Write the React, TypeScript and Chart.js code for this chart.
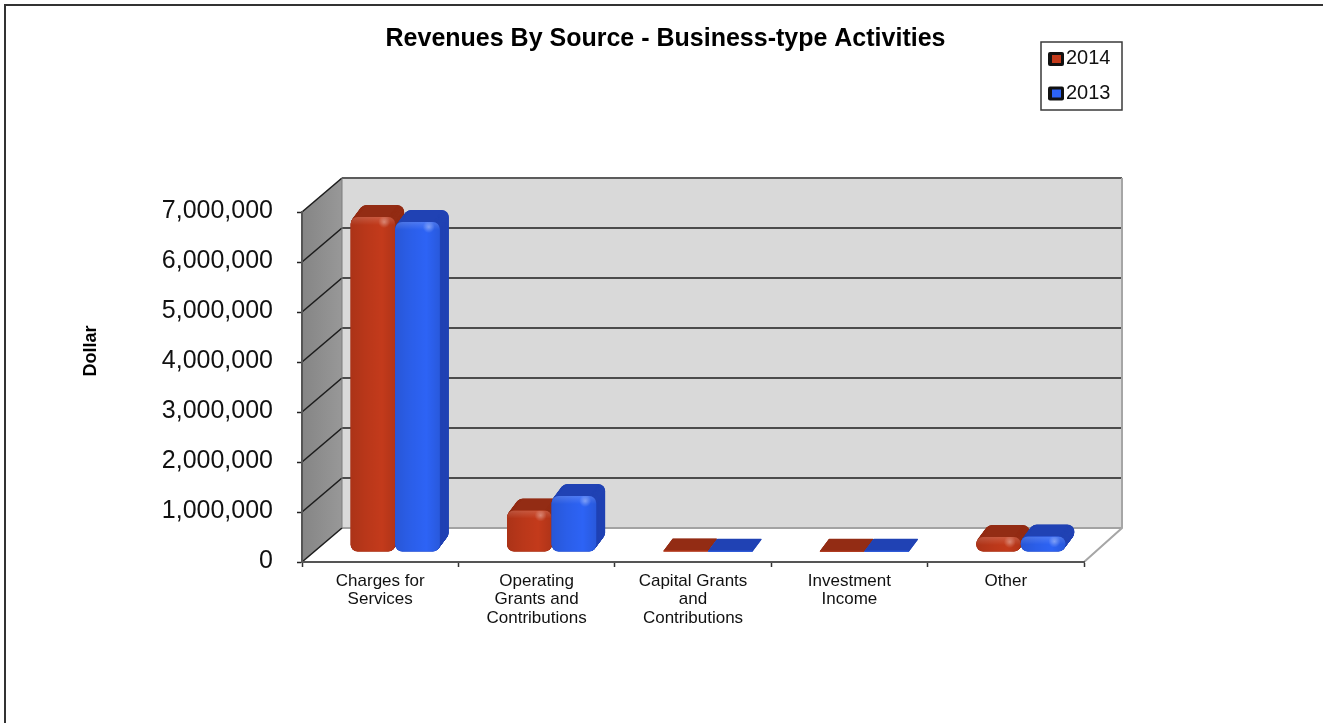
import React, { useEffect, useRef } from "react";
import { Chart, registerables } from "chart.js";

Chart.register(...registerables);

const categories = [
  ["Charges for", "Services"],
  ["Operating", "Grants and", "Contributions"],
  ["Capital Grants", "and", "Contributions"],
  ["Investment", "Income"],
  ["Other"],
];
const seriesNames = ["2014", "2013"];
const values2014 = [6700000, 830000, 30000, 25000, 300000];
const values2013 = [6600000, 1120000, 25000, 25000, 310000];
const faceColors = ["#c33a1b", "#2d63f5"];
const depthColors = ["#932c14", "#2143b4"];

// Oblique projection of the plot box: back wall relative to the front plane.
const WALL_DX = 40;
const WALL_DY = 34;
// Bars stand partway into the box and have their own depth.
const BAR_SHIFT_X = 15;
const BAR_SHIFT_Y = 10;
const BAR_DX = 9;
const BAR_DY = 12;
const BAR_CORNER = 7;
const FONT = "'Liberation Sans', Arial, sans-serif";

function barRadius(w: number, h: number) {
  return Math.min(BAR_CORNER, Math.abs(h) / 2, w / 2);
}

const boxPlugin = {
  id: "box3d",
  afterLayout(chart: any) {
    // Title is centred a little right of the canvas middle; legend sits top right.
    chart.titleBlock.left = 0;
    chart.titleBlock.right = 1331;
    const lg = chart.legend;
    lg.left = 1033;
    lg.right = 1122;
    lg.top = 33;
    lg.bottom = 160;
  },
  beforeDraw(chart: any) {
    const { ctx, chartArea: a, scales } = chart;
    const y = scales.y;
    ctx.save();

    // Page frame
    ctx.strokeStyle = "#333";
    ctx.lineWidth = 2;
    ctx.beginPath();
    ctx.moveTo(5, 723);
    ctx.lineTo(5, 5);
    ctx.lineTo(1323, 5);
    ctx.stroke();

    // Back wall
    const bl = a.left + WALL_DX;
    const br = a.right + WALL_DX - 2;
    const bt = a.top - WALL_DY;
    const bb = a.bottom - WALL_DY;
    ctx.fillStyle = "#d9d9d9";
    ctx.fillRect(bl, bt, br - bl, bb - bt);

    // Side wall
    const side = ctx.createLinearGradient(a.left, 0, bl, 0);
    side.addColorStop(0, "#858585");
    side.addColorStop(1, "#989898");
    ctx.fillStyle = side;
    ctx.beginPath();
    ctx.moveTo(a.left, a.top);
    ctx.lineTo(bl, bt);
    ctx.lineTo(bl, bb);
    ctx.lineTo(a.left, a.bottom);
    ctx.closePath();
    ctx.fill();

    // Grid lines on both walls, from the value scale
    y.ticks.forEach((t: any) => {
      const py = y.getPixelForValue(t.value);
      const isEdge = t.value === 0 || t.value === y.max;
      ctx.strokeStyle = isEdge ? (t.value === 0 ? "#a3a3a3" : "#5c5c5c") : "#1c1c1c";
      ctx.lineWidth = isEdge ? 2 : 1.6;
      ctx.beginPath();
      ctx.moveTo(br, py - WALL_DY);
      ctx.lineTo(bl, py - WALL_DY);
      ctx.stroke();
      ctx.strokeStyle = "#1c1c1c";
      ctx.lineWidth = 1.6;
      ctx.beginPath();
      ctx.moveTo(bl, py - WALL_DY);
      ctx.lineTo(a.left, py);
      ctx.stroke();
    });

    // Edges of the box
    ctx.strokeStyle = "#a6a6a6";
    ctx.lineWidth = 2;
    ctx.beginPath();
    ctx.moveTo(br, bt);
    ctx.lineTo(br, bb);
    ctx.lineTo(a.right, a.bottom);
    ctx.stroke();
    ctx.strokeStyle = "#7d7d7d";
    ctx.lineWidth = 1;
    ctx.beginPath();
    ctx.moveTo(bl, bt);
    ctx.lineTo(bl, bb);
    ctx.stroke();

    // Vertical axis caption
    ctx.save();
    ctx.translate(91, 351);
    ctx.rotate(-Math.PI / 2);
    ctx.fillStyle = "#000";
    ctx.font = `bold 18px ${FONT}`;
    ctx.textAlign = "center";
    ctx.textBaseline = "middle";
    ctx.fillText("Dollar", 0, 0);
    ctx.restore();

    // Legend frame and swatches
    ctx.strokeStyle = "#3a3a3a";
    ctx.lineWidth = 1.5;
    ctx.strokeRect(1041, 42, 81, 68);
    faceColors.forEach((c, i) => {
      const sy = 52 + i * 34.5;
      ctx.fillStyle = "#111";
      ctx.beginPath();
      ctx.roundRect(1048, sy, 16, 14, 2);
      ctx.fill();
      ctx.fillStyle = c;
      ctx.fillRect(1052, sy + 3, 9, 8);
    });
    ctx.restore();
  },
  // Bars are painted series by series so the later series covers the earlier one.
  beforeDatasetDraw() {
    return false;
  },
  afterDatasetsDraw(chart: any) {
    const { ctx } = chart;
    chart.data.datasets.forEach((_: any, index: number) => {
      const meta = chart.getDatasetMeta(index);
      ctx.save();
      ctx.translate(BAR_SHIFT_X, -BAR_SHIFT_Y);

      // Extruded top and side: the face outline swept backwards in fine steps
      ctx.fillStyle = depthColors[index];
      meta.data.forEach((bar: any) => {
        const { x, y, base, width } = bar.getProps(["x", "y", "base", "width"], true);
        const h = base - y;
        const r = barRadius(width, h);
        const steps = BAR_DY * 4;
        for (let s = steps; s >= 0; s--) {
          const f = s / steps;
          ctx.beginPath();
          ctx.roundRect(x - width / 2 + f * BAR_DX, y - f * BAR_DY, width, Math.max(h, 1), r);
          ctx.fill();
        }
      });

      // Front faces through the bar controller
      meta.controller.draw();

      // Shading on the front faces
      meta.data.forEach((bar: any) => {
        const { x, y, base, width } = bar.getProps(["x", "y", "base", "width"], true);
        const h = base - y;
        if (h < 6) return;
        const left = x - width / 2;
        ctx.save();
        ctx.beginPath();
        ctx.roundRect(left, y, width, h, barRadius(width, h));
        ctx.clip();
        const g = ctx.createLinearGradient(left, 0, left + width, 0);
        g.addColorStop(0, "rgba(0,0,0,0.12)");
        g.addColorStop(0.35, "rgba(0,0,0,0.05)");
        g.addColorStop(0.7, "rgba(0,0,0,0)");
        g.addColorStop(1, "rgba(0,0,0,0.1)");
        ctx.fillStyle = g;
        ctx.fillRect(left, y, width, h);
        const t = ctx.createLinearGradient(0, y, 0, y + 8);
        t.addColorStop(0, "rgba(255,255,255,0.16)");
        t.addColorStop(1, "rgba(255,255,255,0)");
        ctx.fillStyle = t;
        ctx.fillRect(left, y, width, 8);
        const sx = left + width - 11;
        const sy = y + 5;
        const spot = ctx.createRadialGradient(sx, sy, 0, sx, sy, 6);
        spot.addColorStop(0, "rgba(255,255,255,0.35)");
        spot.addColorStop(1, "rgba(255,255,255,0)");
        ctx.fillStyle = spot;
        ctx.fillRect(sx - 6, sy - 6, 12, 12);
        ctx.restore();
      });
      ctx.restore();
    });
  },
};

export default function App() {
  const canvasRef = useRef<HTMLCanvasElement>(null);

  useEffect(() => {
    const chart = new Chart(canvasRef.current as HTMLCanvasElement, {
      type: "bar",
      data: {
        labels: categories,
        datasets: [
          { label: seriesNames[0], data: values2014, backgroundColor: faceColors[0], borderSkipped: false, borderRadius: BAR_CORNER },
          { label: seriesNames[1], data: values2013, backgroundColor: faceColors[1], borderSkipped: false, borderRadius: BAR_CORNER },
        ],
      },
      options: {
        responsive: false,
        animation: false,
        events: [],
        layout: { padding: { left: 0, right: 239, top: 0, bottom: 0 } },
        categoryPercentage: 0.57,
        barPercentage: 1,
        scales: {
          x: {
            grid: { drawOnChartArea: false, tickLength: 5, tickColor: "#333", tickWidth: 1.5, offset: true },
            border: { color: "#555", width: 2 },
            ticks: {
              color: "#111",
              font: { family: FONT, size: 17, lineHeight: 1.09 },
              padding: 5,
              maxRotation: 0,
              autoSkip: false,
            },
            afterFit(s: any) {
              s.height = 161;
            },
          },
          y: {
            min: 0,
            max: 7000000,
            grid: { drawOnChartArea: false, tickLength: 5, tickColor: "#222", tickWidth: 1.5 },
            border: { color: "#555", width: 2 },
            ticks: {
              stepSize: 1000000,
              color: "#111",
              padding: 24,
              labelOffset: -1,
              font: { family: FONT, size: 25 },
              callback: (v: any) => Number(v).toLocaleString("en-US"),
            },
            afterFit(s: any) {
              s.width = 302;
            },
          },
        },
        plugins: {
          title: {
            display: true,
            text: "Revenues By Source - Business-type Activities",
            color: "#000",
            font: { family: FONT, size: 25, weight: "bold" },
            padding: { top: 24, bottom: 158 },
          },
          legend: {
            position: "chartArea",
            align: "start",
            labels: {
              boxWidth: 8,
              boxHeight: 14,
              padding: 15,
              color: "#111",
              font: { family: FONT, size: 20 },
              generateLabels: (c: any) =>
                c.data.datasets.map((d: any, i: number) => ({
                  text: d.label,
                  fillStyle: "rgba(0,0,0,0)",
                  strokeStyle: "rgba(0,0,0,0)",
                  lineWidth: 0,
                  datasetIndex: i,
                  fontColor: "#111",
                })),
            },
          },
          tooltip: { enabled: false },
        },
      } as any,
      plugins: [boxPlugin as any],
    });
    return () => chart.destroy();
  }, []);

  return (
    <canvas
      ref={canvasRef}
      width={1323}
      height={723}
      style={{ position: "absolute", left: 0, top: 0, width: 1323, height: 723 }}
    />
  );
}
